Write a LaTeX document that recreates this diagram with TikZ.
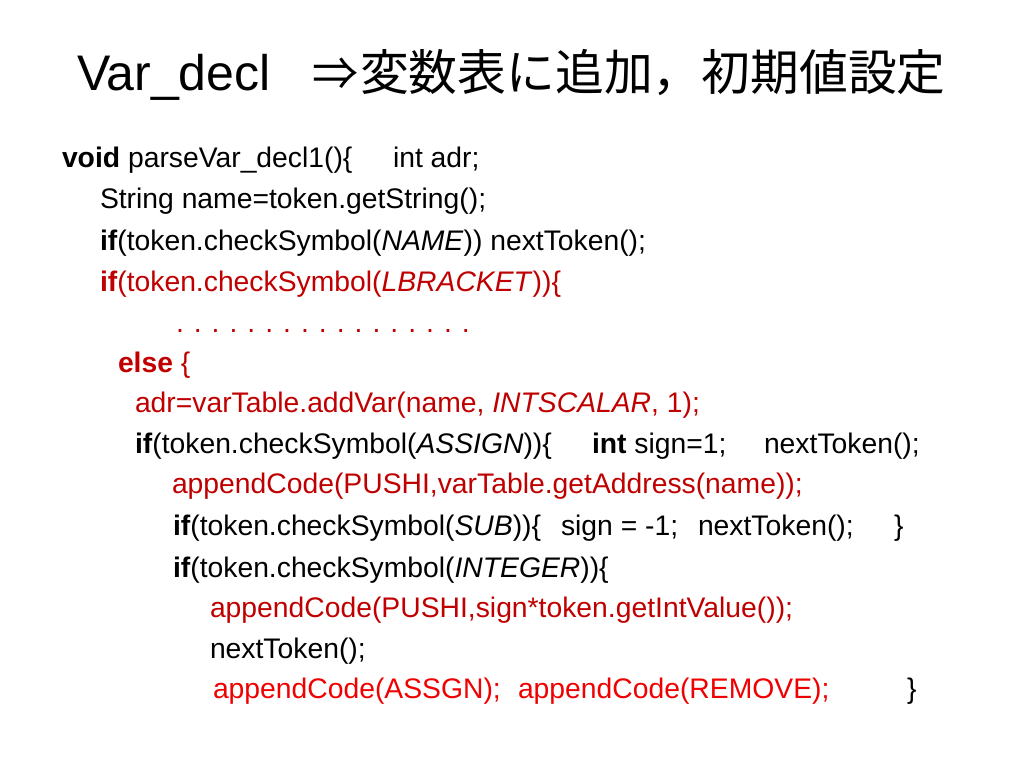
\documentclass[tikz,border=0pt]{standalone}
\usepackage{fontspec}
\setmainfont{Liberation Sans}
\newfontfamily\cjkfont{Noto Sans CJK JP}
\definecolor{dred}{RGB}{192,0,0}
\definecolor{bred}{RGB}{240,0,0}
\newcommand{\bodyfont}{\fontsize{28.3}{34}\selectfont}
\tikzset{
  codeline/.style={anchor=base west, inner sep=0pt, outer sep=0pt, font=\bodyfont, text=black},
  redline/.style={codeline, text=dred},
  brightline/.style={codeline, text=bred},
  titletext/.style={anchor=base west, inner sep=0pt, outer sep=0pt, font=\fontsize{50}{60}\selectfont}
}
\begin{document}
\begin{tikzpicture}[x=1pt,y=-1pt]
\useasboundingbox[fill=white] (0,0) rectangle (1024,768);
% title
\node[titletext] (t1) at (77,90) {Var\_decl};
\node[anchor=base, inner sep=0pt, font=\cjkfont\fontsize{46}{56}\selectfont] (t2) at (335,90) {⇒};
\node[titletext, font=\cjkfont\fontsize{48.8}{58}\selectfont] (t3) at (360,90) {変数表に追加，初期値設定};
% body
\node[codeline] (l1a) at (62,167) {\textbf{void} parseVar\_decl1()\{};
\node[codeline] (l1b) at (393,167) {int adr;};
\node[codeline] (l2) at (100,208) {String name=token.getString();};
\node[codeline] (l3) at (100,250) {\textbf{if}(token.checkSymbol(\textit{NAME})) nextToken();};
\node[redline] (l4) at (100,291) {\textbf{if}(token.checkSymbol(\textit{LBRACKET}))\{};
\node[redline] (l5) at (176,332) {.\hspace{10pt}.\hspace{10pt}.\hspace{10pt}.\hspace{10pt}.\hspace{10pt}.\hspace{10pt}.\hspace{10pt}.\hspace{10pt}.\hspace{10pt}.\hspace{10pt}.\hspace{10pt}.\hspace{10pt}.\hspace{10pt}.\hspace{10pt}.\hspace{10pt}.\hspace{10pt}.};
\node[redline] (l6) at (118,372) {\textbf{else} \{};
\node[redline] (l7) at (135,412) {adr=varTable.addVar(name, \textit{INTSCALAR}, 1);};
\node[codeline] (l8a) at (135,453) {\textbf{if}(token.checkSymbol(\textit{ASSIGN}))\{};
\node[codeline] (l8b) at (592,453) {\textbf{int} sign=1;};
\node[codeline] (l8c) at (764,453) {nextToken();};
\node[redline] (l9) at (172,493) {appendCode(PUSHI,varTable.getAddress(name));};
\node[codeline] (l10a) at (173,535) {\textbf{if}(token.checkSymbol(\textit{SUB}))\{};
\node[codeline] (l10b) at (561,535) {sign = -1;};
\node[codeline] (l10c) at (698,535) {nextToken();};
\node[codeline] (l10d) at (894,535) {\}};
\node[codeline] (l11) at (173,577) {\textbf{if}(token.checkSymbol(\textit{INTEGER}))\{};
\node[redline] (l12) at (210,617) {appendCode(PUSHI,sign*token.getIntValue());};
\node[codeline] (l13) at (210,658) {nextToken();};
\node[brightline] (l14a) at (213,698) {appendCode(ASSGN);};
\node[brightline] (l14b) at (518,698) {appendCode(REMOVE);};
\node[codeline] (l14c) at (907,698) {\}};
\end{tikzpicture}
\end{document}
